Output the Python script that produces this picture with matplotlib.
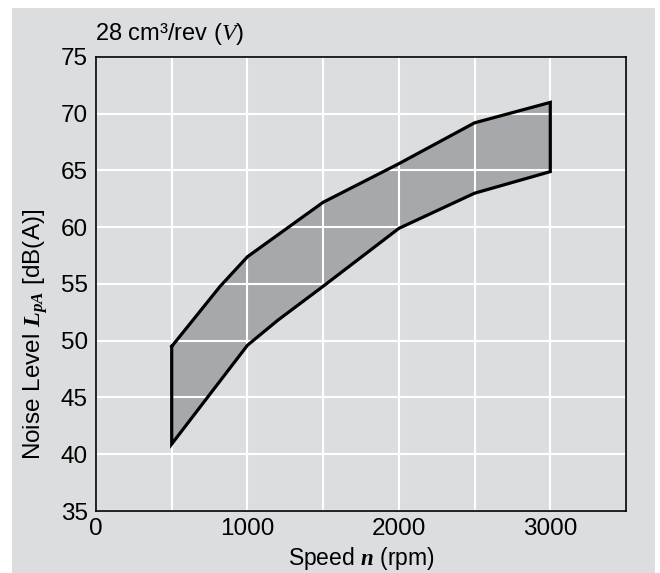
import matplotlib.pyplot as plt
import numpy as np
from matplotlib.patches import Rectangle
from matplotlib.ticker import MultipleLocator

plt.rcParams['font.family'] = 'Liberation Sans'
plt.rcParams['mathtext.fontset'] = 'custom'
plt.rcParams['mathtext.rm'] = 'Liberation Sans'
plt.rcParams['mathtext.it'] = 'Liberation Serif:italic'
plt.rcParams['mathtext.bf'] = 'Liberation Serif:bold:italic'

# band limits
upper_speed = [500, 820, 1000, 1500, 2000, 2500, 2750, 3000]
upper_noise = [49.5, 54.8, 57.4, 62.2, 65.6, 69.2, 70.1, 71.0]
lower_speed = [500, 1000, 1200, 1500, 2000, 2500, 3000]
lower_noise = [40.9, 49.6, 51.8, 54.8, 59.9, 63.0, 64.9]

bg = '#dcdddf'
fig = plt.figure(figsize=(6.6, 5.73), dpi=100)
fig.patches.append(Rectangle((12 / 660, 0), (655 - 12) / 660, 1 - 8 / 573,
                             transform=fig.transFigure, facecolor=bg,
                             edgecolor='none', zorder=-5))
ax = fig.add_axes([96 / 660, 1 - 511 / 573, (626 - 96) / 660, (511 - 57) / 573])
ax.set_facecolor(bg)

# closed outline: upper left->right, then lower right->left
xs = np.concatenate([upper_speed, lower_speed[::-1], upper_speed[:1]])
ys = np.concatenate([upper_noise, lower_noise[::-1], upper_noise[:1]])
ax.fill(xs, ys, facecolor='#a7a8ab', edgecolor='none', zorder=1)
ax.plot(xs, ys, color='black', linewidth=2.3, solid_joinstyle='miter', zorder=3)

ax.set_xlim(0, 3500)
ax.set_ylim(35, 75)
ax.xaxis.set_major_locator(MultipleLocator(1000))
ax.xaxis.set_minor_locator(MultipleLocator(500))
ax.yaxis.set_major_locator(MultipleLocator(5))
ax.set_axisbelow(False)
ax.grid(True, which='both', color='white', linewidth=1.5)
ax.tick_params(which='both', length=0, labelsize=17.5, colors='black')
ax.tick_params(axis='x', pad=5)
ax.tick_params(axis='y', pad=6)
for s in ax.spines.values():
    s.set_linewidth(1.2)
    s.set_color('black')
    s.set_zorder(4)

ax.set_xlabel(r'Speed $\mathbf{n}$ (rpm)', fontsize=16.5, labelpad=4)
ax.set_ylabel(r'Noise Level $\mathbf{L_{pA}}$ [dB(A)]', fontsize=17.5)
ax.yaxis.set_label_coords(-0.087, 0.388)  # label sits below centre in the original
ax.set_title(r'28 cm³/rev $\mathit{(V)}$', fontsize=17, loc='left', pad=12, x=-0.002)

fig.savefig('out.png', dpi=100, facecolor='white')
